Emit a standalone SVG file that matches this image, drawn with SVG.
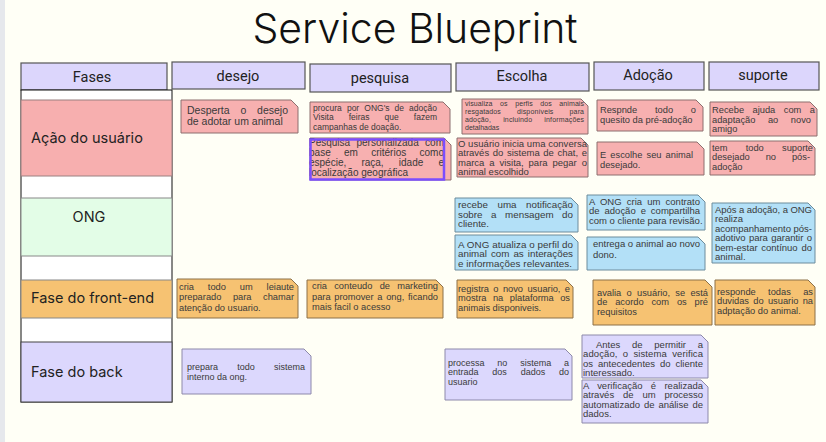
<svg xmlns="http://www.w3.org/2000/svg" width="826" height="442" viewBox="0 0 826 442">
<style>
.hd{fill:#dcd6fc;stroke:#555;stroke-width:1.2}
.hdt{font-family:Roboto,"Liberation Sans",sans-serif;font-size:14.5px;fill:#222;text-anchor:middle}
.lab{font-family:Inter,"Liberation Sans",sans-serif;font-size:14.5px;fill:#222}
.n text{font-family:"Liberation Sans",Arial,sans-serif;fill:#3a3a3a}
.pk{fill:#f7b0b0;stroke:#8c6e6e;stroke-width:1}
.bl{fill:#b3e0f7;stroke:#6d8c9c;stroke-width:1}
.or{fill:#f6c272;stroke:#8c7048;stroke-width:1}
.lv{fill:#dcd8fd;stroke:#8d89aa;stroke-width:1}
</style>
<rect x="0" y="0" width="826" height="442" fill="#fffff6"/>
<rect x="0" y="0" width="5" height="442" fill="#e6e8ec"/>
<text x="415" y="43" font-family="Inter,'Liberation Sans',sans-serif" font-size="41" font-weight="300" fill="#111" text-anchor="middle" textLength="325" lengthAdjust="spacing">Service Blueprint</text>

<g id="header">
<g id="h-fases"><rect class="hd" x="21" y="63" width="146" height="27"/><text class="hdt" x="92" y="82">Fases</text></g>
<g id="h-desejo"><rect class="hd" x="172" y="62" width="133" height="27"/><text class="hdt" x="238" y="81">desejo</text></g>
<g id="h-pesquisa"><rect class="hd" x="310" y="64" width="141" height="28"/><text class="hdt" x="380" y="83">pesquisa</text></g>
<g id="h-escolha"><rect class="hd" x="456" y="63" width="133" height="28"/><text class="hdt" x="522" y="81">Escolha</text></g>
<g id="h-adocao"><rect class="hd" x="594" y="62" width="110" height="28"/><text class="hdt" x="648" y="80">Adoção</text></g>
<g id="h-suporte"><rect class="hd" x="709" y="62" width="110" height="28"/><text class="hdt" x="763" y="80">suporte</text></g>
</g>

<g id="lanes">
<rect x="21" y="90" width="151" height="312" fill="#ffffff" stroke="#111" stroke-width="1"/>
<g id="lane-acao"><rect x="21" y="100" width="151" height="76" fill="#f7afaf" stroke="#9a8080"/><text class="lab" x="31" y="143">Ação do usuário</text></g>
<g id="lane-ong"><rect x="21" y="198" width="151" height="58" fill="#e3fde7" stroke="#888"/><text class="lab" x="89" y="221.5" text-anchor="middle">ONG</text></g>
<g id="lane-front"><rect x="21" y="280" width="151" height="38" fill="#f6c272" stroke="#888"/><text class="lab" x="31" y="303">Fase do front-end</text></g>
<g id="lane-back"><rect x="21" y="342" width="151" height="60" fill="#dcd7fd" stroke="#444"/><text class="lab" x="31" y="377">Fase do back</text></g>
</g>

<g id="connectors"></g>

<!-- Ação do usuário -->
<g id="nA" class="n"><path class="pk" d="M181,100h110l7,7v26h-117z"/>
<text font-size="10.5" x="187" y="114" style="word-spacing:7.9px" textLength="101" lengthAdjust="spacing">Desperta o desejo</text>
<text font-size="10.5" x="187" y="125">de adotar um animal</text></g>

<g id="nB" class="n"><path class="pk" d="M310,102h133l7,7v24h-140z"/>
<text font-size="8.5" x="313" y="111" style="word-spacing:2.7px" textLength="124" lengthAdjust="spacing">procura por ONG's de adoção</text>
<text font-size="8.5" x="313" y="120" style="word-spacing:12.7px" textLength="124" lengthAdjust="spacing">Visita feiras que fazem</text>
<text font-size="8.5" x="313" y="129.5">campanhas de doação.</text></g>

<g id="nC" class="n"><path class="pk" d="M310,138h134l7,7v35h-141z"/>
<text font-size="10" x="309" y="145.5" style="word-spacing:3.6px" textLength="135" lengthAdjust="spacing">Pesquisa personalizada com</text>
<text font-size="10" x="309" y="155.8" style="word-spacing:10.5px" textLength="135" lengthAdjust="spacing">base em critérios como</text>
<text font-size="10" x="309" y="166.1" style="word-spacing:12.4px" textLength="135" lengthAdjust="spacing">espécie, raça, idade e</text>
<text font-size="10" x="309" y="176.4">localização geográfica</text>
<rect x="310.5" y="139.5" width="133.5" height="40" fill="none" stroke="#7b4dff" stroke-width="2.5"/></g>

<g id="nD" class="n"><path class="pk" d="M462,99h119l7,7v28h-126z"/>
<text font-size="7" x="465" y="106" style="word-spacing:5.5px" textLength="119" lengthAdjust="spacing">visualiza os perfis dos animais</text>
<text font-size="7" x="465" y="114.1" style="word-spacing:14px" textLength="119" lengthAdjust="spacing">resgatados disponíveis para</text>
<text font-size="7" x="465" y="122.2" style="word-spacing:10px" textLength="119" lengthAdjust="spacing">adoção, incluindo informações</text>
<text font-size="7" x="465" y="130.3">detalhadas</text></g>

<g id="nE" class="n"><path class="pk" d="M457,138h124l7,7v32h-131z"/>
<text font-size="9.5" x="458" y="146.5" textLength="129" lengthAdjust="spacing">O usuário inicia uma conversa</text>
<text font-size="9.5" x="458" y="156" style="word-spacing:1px" textLength="129" lengthAdjust="spacing">através do sistema de chat, e</text>
<text font-size="9.5" x="458" y="165.5" style="word-spacing:2.3px" textLength="129" lengthAdjust="spacing">marca a visita, para pegar o</text>
<text font-size="9.5" x="458" y="175">animal escolhido</text></g>

<g id="nF" class="n"><path class="pk" d="M597,100h99l7,7v24h-106z"/>
<text font-size="9.3" x="600" y="113.3" style="word-spacing:15.2px" textLength="96" lengthAdjust="spacing">Respnde todo o</text>
<text font-size="9.3" x="600" y="123.3">quesito da pré-adoção</text></g>

<g id="nG" class="n"><path class="pk" d="M710,102h100l7,7v27h-107z"/>
<text font-size="9.3" x="712" y="113" style="word-spacing:5.9px" textLength="103" lengthAdjust="spacing">Recebe ajuda com a</text>
<text font-size="9.3" x="712" y="122.5" style="word-spacing:10px" textLength="99" lengthAdjust="spacing">adaptação ao novo</text>
<text font-size="9.3" x="712" y="132">amigo</text></g>

<g id="nH" class="n"><path class="pk" d="M597,142h100l7,7v26h-107z"/>
<text font-size="9.3" x="600" y="157.5" style="word-spacing:1.5px" textLength="93" lengthAdjust="spacing">E escolhe seu animal</text>
<text font-size="9.3" x="600" y="168">desejado.</text></g>

<g id="nI" class="n"><path class="pk" d="M710,141h98l7,7v27h-105z"/>
<text font-size="9.3" x="712" y="150.5" style="word-spacing:15.6px" textLength="101" lengthAdjust="spacing">tem todo suporte</text>
<text font-size="9.3" x="712" y="160" style="word-spacing:13.3px" textLength="98" lengthAdjust="spacing">desejado no pós-</text>
<text font-size="9.3" x="712" y="169.5">adoção</text></g>

<!-- ONG -->
<g id="nJ" class="n"><path class="bl" d="M455,198h116l7,7v27h-123z"/>
<text font-size="9.8" x="458" y="208" style="word-spacing:6.8px" textLength="115" lengthAdjust="spacing">recebe uma notificação</text>
<text font-size="9.8" x="458" y="217.5" style="word-spacing:5.8px" textLength="115" lengthAdjust="spacing">sobre a mensagem do</text>
<text font-size="9.8" x="458" y="227">cliente.</text></g>

<g id="nK" class="n"><path class="bl" d="M455,235h116l7,7v28h-123z"/>
<text font-size="9.8" x="458" y="247.5" textLength="115" lengthAdjust="spacing">A ONG atualiza o perfil do</text>
<text font-size="9.8" x="458" y="257" style="word-spacing:1.3px" textLength="115" lengthAdjust="spacing">animal com as interações</text>
<text font-size="9.8" x="458" y="266.5" textLength="114" lengthAdjust="spacing">e informações relevantes.</text></g>

<g id="nL" class="n"><path class="bl" d="M587,195h111l7,7v28h-118z"/>
<text font-size="9.5" x="589" y="204.5" style="word-spacing:2.4px" textLength="111" lengthAdjust="spacing">A ONG cria um contrato</text>
<text font-size="9.5" x="589" y="214" style="word-spacing:2.3px" textLength="111" lengthAdjust="spacing">de adoção e compartilha</text>
<text font-size="9.5" x="589" y="223.5">com o cliente para revisão.</text></g>

<g id="nM" class="n"><path class="bl" d="M587,237h111l7,7v26h-118z"/>
<text font-size="9.5" x="593" y="247" textLength="107" lengthAdjust="spacing">entrega o animal ao novo</text>
<text font-size="9.5" x="593" y="257.5">dono.</text></g>

<g id="nN" class="n"><path class="bl" d="M712,203h96l7,7v53h-103z"/>
<text font-size="9.5" x="715" y="212.5" textLength="97" lengthAdjust="spacing">Após a adoção, a ONG</text>
<text font-size="9.5" x="715" y="222">realiza</text>
<text font-size="9.5" x="715" y="231.5" textLength="97" lengthAdjust="spacing">acompanhamento pós-</text>
<text font-size="9.5" x="715" y="241" style="word-spacing:0.7px" textLength="97" lengthAdjust="spacing">adotivo para garantir o</text>
<text font-size="9.5" x="715" y="250.5" style="word-spacing:1.2px" textLength="97" lengthAdjust="spacing">bem-estar contínuo do</text>
<text font-size="9.5" x="715" y="260">animal.</text></g>

<!-- Front-end -->
<g id="nO" class="n"><path class="or" d="M177,279h114l7,7v32h-121z"/>
<text font-size="9.3" x="179" y="289.5" style="word-spacing:11.3px" textLength="115" lengthAdjust="spacing">cria todo um leiaute</text>
<text font-size="9.3" x="179" y="300" style="word-spacing:8.9px" textLength="115" lengthAdjust="spacing">preparado para chamar</text>
<text font-size="9.3" x="179" y="310.5">atenção do usuario.</text></g>

<g id="nP" class="n"><path class="or" d="M307,280h129l7,7v31h-136z"/>
<text font-size="9.3" x="312" y="289" style="word-spacing:4.6px" textLength="126" lengthAdjust="spacing">cria conteudo de marketing</text>
<text font-size="9.3" x="312" y="299.5" style="word-spacing:1.1px" textLength="126" lengthAdjust="spacing">para promover a ong, ficando</text>
<text font-size="9.3" x="312" y="310">mais facil o acesso</text></g>

<g id="nQ" class="n"><path class="or" d="M457,280h109l7,7v31h-116z"/>
<text font-size="9.3" x="458" y="291.5" style="word-spacing:1.8px" textLength="112" lengthAdjust="spacing">registra o novo usuario, e</text>
<text font-size="9.3" x="458" y="301" style="word-spacing:3.9px" textLength="112" lengthAdjust="spacing">mostra na plataforma os</text>
<text font-size="9.3" x="458" y="310.5">animais disponiveis.</text></g>

<g id="nR" class="n"><path class="or" d="M593,280h112l7,7v38h-119z"/>
<text font-size="9.3" x="597" y="295.5" style="word-spacing:2.7px" textLength="111" lengthAdjust="spacing">avalia o usuário, se está</text>
<text font-size="9.3" x="597" y="305" style="word-spacing:5.3px" textLength="111" lengthAdjust="spacing">de acordo com os pré</text>
<text font-size="9.3" x="597" y="314.5">requisitos</text></g>

<g id="nS" class="n"><path class="or" d="M715,280h93l7,7v38h-100z"/>
<text font-size="9.3" x="717" y="294.5" style="word-spacing:9.8px" textLength="96" lengthAdjust="spacing">responde todas as</text>
<text font-size="9.3" x="717" y="304" style="word-spacing:1.7px" textLength="96" lengthAdjust="spacing">duvidas do usuario na</text>
<text font-size="9.3" x="717" y="313.5">adptação do animal.</text></g>

<!-- Back -->
<g id="nT" class="n"><path class="lv" d="M182,349h122l7,7v38h-129z"/>
<text font-size="9" x="187" y="370" style="word-spacing:16.7px" textLength="118" lengthAdjust="spacing">prepara todo sistema</text>
<text font-size="9" x="187" y="380">interno da ong.</text></g>

<g id="nU" class="n"><path class="lv" d="M445,349h120l7,7v44h-127z"/>
<text font-size="9" x="448" y="365.5" style="word-spacing:10.3px" textLength="121" lengthAdjust="spacing">processa no sistema a</text>
<text font-size="9" x="448" y="375" style="word-spacing:11.3px" textLength="121" lengthAdjust="spacing">entrada dos dados do</text>
<text font-size="9" x="448" y="384.5">usuario</text></g>

<g id="nV" class="n"><path class="lv" d="M582,335h119l7,7v36h-126z"/>
<text font-size="9.5" x="596" y="347.5" style="word-spacing:9.1px" textLength="107" lengthAdjust="spacing">Antes de permitir a</text>
<text font-size="9.5" x="583" y="357" style="word-spacing:2.5px" textLength="120" lengthAdjust="spacing">adoção, o sistema verifica</text>
<text font-size="9.5" x="583" y="366.5" style="word-spacing:2.3px" textLength="120" lengthAdjust="spacing">os antecedentes do cliente</text>
<text font-size="9.5" x="583" y="376">interessado.</text></g>

<g id="nW" class="n"><path class="lv" d="M582,380h119l7,7v36h-126z"/>
<text font-size="9.5" x="583" y="388.5" style="word-spacing:5.7px" textLength="120" lengthAdjust="spacing">A verificação é realizada</text>
<text font-size="9.5" x="583" y="398" style="word-spacing:6.2px" textLength="120" lengthAdjust="spacing">através de um processo</text>
<text font-size="9.5" x="583" y="407.5" style="word-spacing:1.3px" textLength="120" lengthAdjust="spacing">automatizado de análise de</text>
<text font-size="9.5" x="583" y="417">dados.</text></g>
</svg>
